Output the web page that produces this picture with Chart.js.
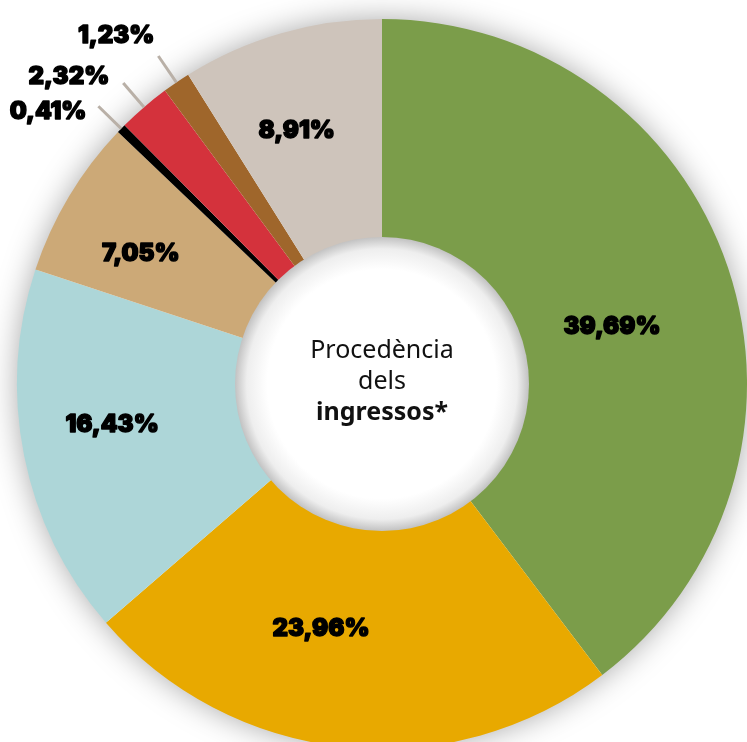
<!DOCTYPE html>
<html>
<head>
<meta charset="utf-8">
<script src="https://cdn.jsdelivr.net/npm/chart.js@4.4.1/dist/chart.umd.min.js"></script>
<style>
  html, body { margin: 0; padding: 0; background: #fff; overflow: hidden; }
  canvas { display: block; }
</style>
</head>
<body>
<canvas id="ingressosChart" width="747" height="760"></canvas>
<script>
// data, clockwise from 12 o'clock
const categories = ['A', 'B', 'C', 'D', 'E', 'F', 'G', 'H'];
const shares = [39.69, 23.96, 16.43, 7.05, 0.41, 2.32, 1.23, 8.91];
const shareLabels = ['39,69%', '23,96%', '16,43%', '7,05%', '0,41%', '2,32%', '1,23%', '8,91%'];
const centerLines = ['Procedència', 'dels', 'ingressos*'];

const colors = ['#7b9d4a', '#e8a900', '#add6d8', '#cca977', '#000000', '#d4323c', '#9f662b', '#cec4bb'];

// label placement: inside = [angle nudge deg, radius px]; outside = leader line + text offset
const labelStyle = [
    { inside: true, nudge: 4.6, r: 237 },
    { inside: true, nudge: 8, r: 252 },
    { inside: true, nudge: 2.7, r: 273 },
    { inside: true, nudge: -2.7, r: 274 },
    { inside: false, dx: -12, dy: 6 },
    { inside: false, dx: -14, dy: -6 },
    { inside: false, dx: -4, dy: -20 },
    { inside: true, nudge: -2.6, r: 267 },
];

const labelFont = '900 24px Inter, Roboto, "DejaVu Sans", sans-serif';

function heavyText(ctx, txt, x, y) {
    ctx.lineWidth = 1.4;
    ctx.lineJoin = 'round';
    ctx.strokeStyle = '#000';
    ctx.strokeText(txt, x, y);
    ctx.fillText(txt, x, y);
}

const ringShadow = {
    id: 'ringShadow',
    beforeDatasetsDraw(chart) {
        const arc = chart.getDatasetMeta(0).data[0];
        if (!arc) return;
        const { x, y, outerRadius } = arc.getProps(['x', 'y', 'outerRadius'], true);
        const ctx = chart.ctx;
        ctx.save();
        ctx.shadowColor = 'rgba(0,0,0,0.38)';
        ctx.shadowBlur = 32;
        ctx.fillStyle = '#ffffff';
        ctx.beginPath();
        ctx.arc(x, y, outerRadius - 2, 0, Math.PI * 2);
        ctx.fill();
        ctx.restore();
    },
    afterDatasetsDraw(chart) {
        const meta = chart.getDatasetMeta(0);
        const arc0 = meta.data[0];
        const { x, y, innerRadius } = arc0.getProps(['x', 'y', 'innerRadius'], true);
        const ctx = chart.ctx;

        // shaded centre disc
        ctx.save();
        const g = ctx.createRadialGradient(x, y, 0, x, y, innerRadius + 1);
        g.addColorStop(0, '#ffffff');
        g.addColorStop(0.78, '#ffffff');
        g.addColorStop(0.92, '#eeeeee');
        g.addColorStop(1, '#c2c2c2');
        ctx.fillStyle = g;
        ctx.beginPath();
        ctx.arc(x, y, innerRadius + 1, 0, Math.PI * 2);
        ctx.fill();

        ctx.fillStyle = '#111';
        ctx.textAlign = 'center';
        ctx.textBaseline = 'alphabetic';
        ctx.font = '400 25px "Noto Sans", sans-serif';
        ctx.fillText(centerLines[0], x, y - 26);
        ctx.fillText(centerLines[1], x, y + 5);
        ctx.font = '700 25px "Noto Sans", sans-serif';
        ctx.fillText(centerLines[2], x, y + 36);
        ctx.restore();

        // value labels
        ctx.save();
        ctx.font = labelFont;
        ctx.fillStyle = '#000';
        meta.data.forEach((el, i) => {
            const p = el.getProps(['x', 'y', 'startAngle', 'endAngle', 'outerRadius'], true);
            const mid = (p.startAngle + p.endAngle) / 2;
            const st = labelStyle[i];
            if (st.inside) {
                const a = mid + st.nudge * Math.PI / 180;
                ctx.textAlign = 'center';
                ctx.textBaseline = 'middle';
                heavyText(ctx, shareLabels[i], p.x + Math.cos(a) * st.r, p.y + Math.sin(a) * st.r);
            } else {
                const r0 = p.outerRadius;
                const r1 = p.outerRadius + 32;
                const x1 = p.x + Math.cos(mid) * r1;
                const y1 = p.y + Math.sin(mid) * r1;
                ctx.strokeStyle = '#b9b0a7';
                ctx.lineWidth = 3;
                ctx.beginPath();
                ctx.moveTo(p.x + Math.cos(mid) * r0, p.y + Math.sin(mid) * r0);
                ctx.lineTo(x1, y1);
                ctx.stroke();
                ctx.textAlign = 'right';
                ctx.textBaseline = 'middle';
                heavyText(ctx, shareLabels[i], x1 + st.dx, y1 + st.dy);
            }
        });
        ctx.restore();
    }
};

const ctx = document.getElementById('ingressosChart').getContext('2d');
new Chart(ctx, {
    type: 'doughnut',
    data: {
        labels: categories,
        datasets: [{
            data: shares,
            backgroundColor: colors,
            borderWidth: 0,
            hoverOffset: 0,
        }],
    },
    options: {
        responsive: false,
        animation: false,
        cutout: '40%',
        layout: { padding: { top: 19, left: 17, right: 0, bottom: 11 } },
        plugins: {
            legend: { display: false },
            tooltip: { enabled: false },
        },
    },
    plugins: [ringShadow],
});
</script>
</body>
</html>
